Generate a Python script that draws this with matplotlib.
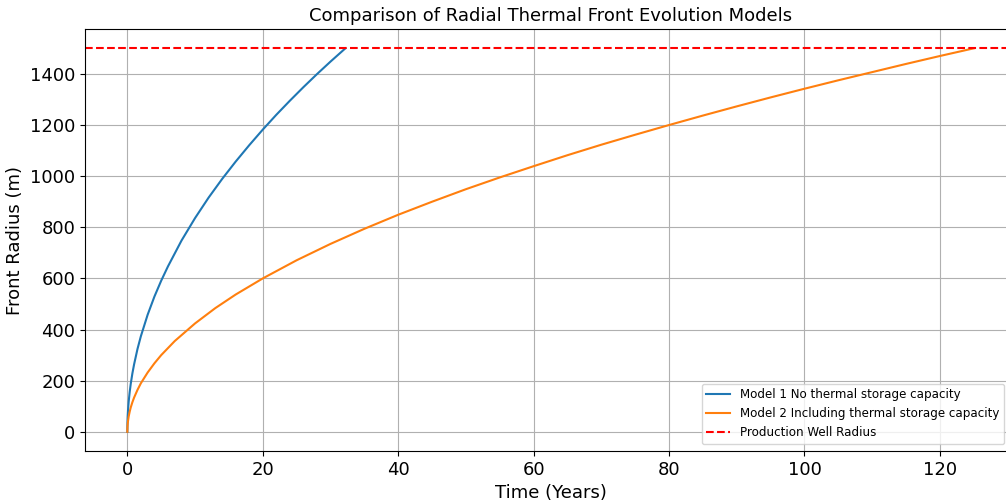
import numpy as np
import matplotlib.pyplot as plt

# Front radius (m) against time (years) for the two models
t_model1 = [0, 0.02, 0.05, 0.1, 0.2, 0.35, 0.5, 0.75, 1, 1.5, 2, 3, 4, 5, 6, 8, 10, 12,
            14, 16, 18, 20, 22, 24, 26, 28, 30, 32.2]
r_model1 = [0, 37, 59, 84, 118, 156, 187, 229, 264, 324, 374, 458, 529, 591, 647, 748,
            836, 916, 989, 1057, 1121, 1182, 1240, 1295, 1348, 1399, 1448, 1500]

t_model2 = [0, 0.02, 0.05, 0.1, 0.2, 0.35, 0.5, 0.75, 1, 1.5, 2, 3, 4, 5, 7, 10, 13, 16,
            20, 25, 30, 35, 40, 45, 50, 55, 60, 65, 70, 75, 80, 85, 90, 95, 100, 105,
            110, 115, 120, 125]
r_model2 = [0, 19, 30, 42, 60, 79, 95, 116, 134, 164, 190, 232, 268, 300, 355, 424, 484,
            537, 600, 671, 735, 794, 849, 900, 949, 995, 1039, 1082, 1123, 1162, 1200,
            1237, 1273, 1308, 1342, 1375, 1407, 1439, 1470, 1500]

well_radius = 1500

fig = plt.figure(figsize=(10.06, 5.01), dpi=100)
ax = fig.add_axes([0.0845, 0.0998, 0.9255, 0.842])

ax.plot(t_model1, r_model1, label='Model 1 No thermal storage capacity')
ax.plot(t_model2, r_model2, label='Model 2 Including thermal storage capacity')
ax.axhline(well_radius, color='r', linestyle='--', label='Production Well Radius')

ax.set_title('Comparison of Radial Thermal Front Evolution Models', fontsize=13)
ax.set_xlabel('Time (Years)', fontsize=13)
ax.set_ylabel('Front Radius (m)', fontsize=13)
ax.tick_params(labelsize=13)
ax.grid(True)
ax.legend(loc='lower right', fontsize=8.6, borderaxespad=0,
          bbox_to_anchor=(1004 / 1006, 57 / 501), bbox_transform=fig.transFigure)

fig.savefig('out.png', dpi=100)
